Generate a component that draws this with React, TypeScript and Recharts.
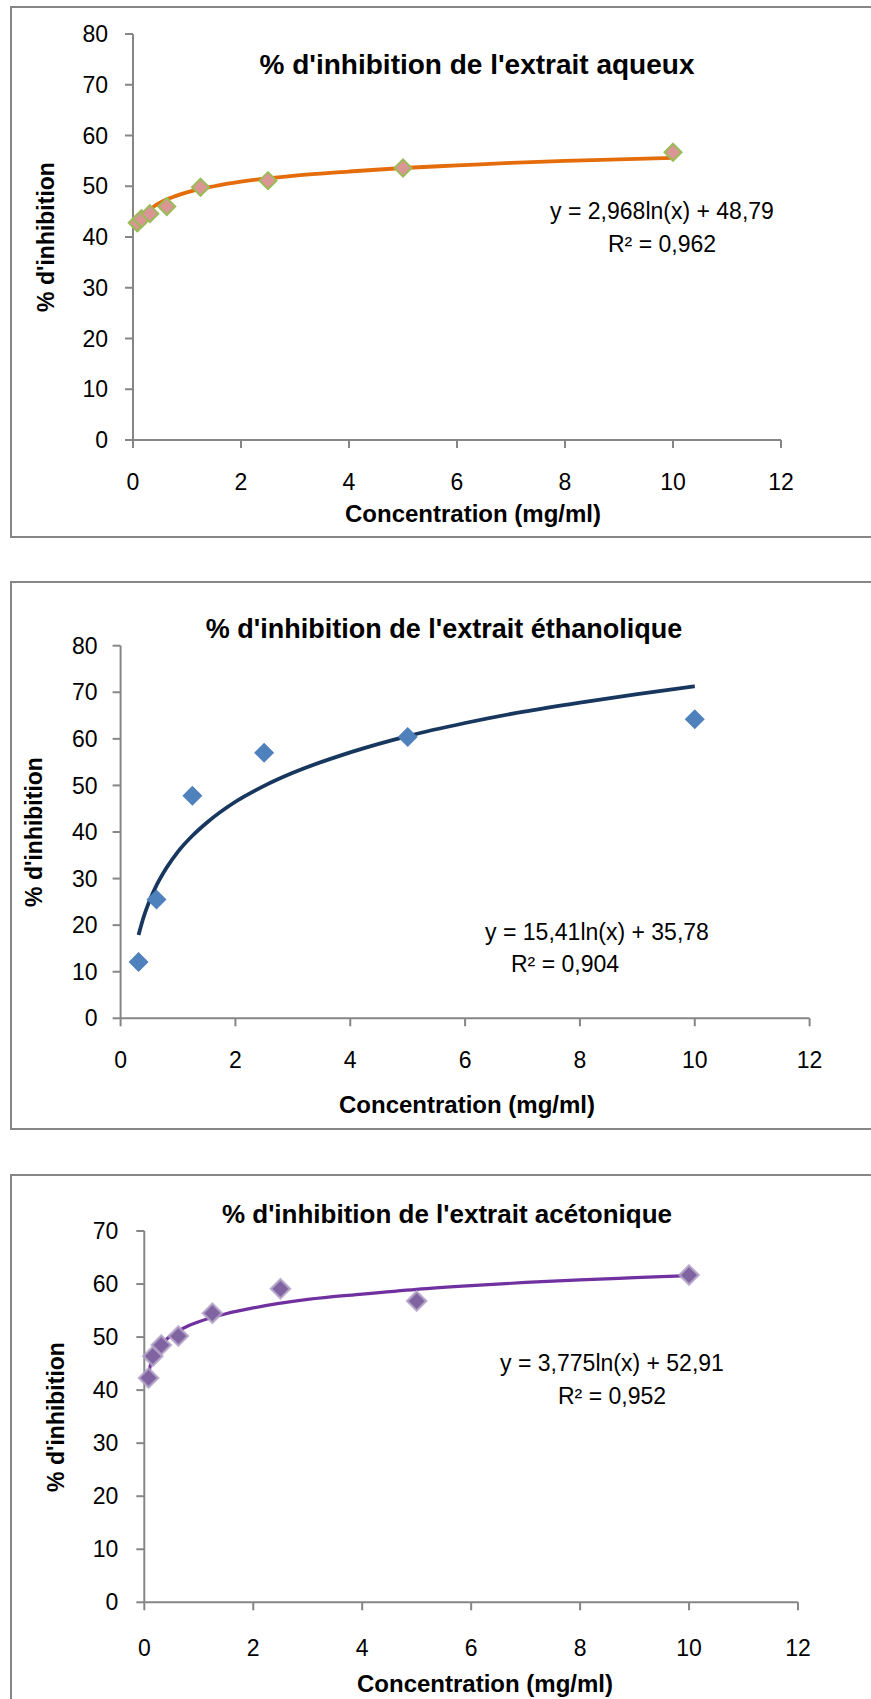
import React from "react";
import { ComposedChart, Scatter, Line, XAxis, YAxis } from "recharts";

const xTicks = [0, 2, 4, 6, 8, 10, 12];
const yTicks80 = [0, 10, 20, 30, 40, 50, 60, 70, 80];
const yTicks70 = [0, 10, 20, 30, 40, 50, 60, 70];

// extrait aqueux
const aqueuxConc = [0.078, 0.156, 0.3125, 0.625, 1.25, 2.5, 5, 10];
const aqueuxInhib = [42.8, 43.6, 44.6, 46.0, 49.8, 51.1, 53.6, 56.7];
const aqueuxTrendX = [0.078, 0.1, 0.15, 0.2, 0.3, 0.4, 0.6, 0.8, 1, 1.5, 2, 3, 4, 5, 6, 7, 8, 9, 10];
const aqueuxTrendY = [41.2, 42.0, 43.2, 44.0, 45.2, 46.1, 47.3, 48.1, 48.8, 50.0, 50.9, 52.1, 52.9, 53.6, 54.1, 54.6, 55.0, 55.3, 55.6];

// extrait éthanolique
const ethanolConc = [0.3125, 0.625, 1.25, 2.5, 5, 10];
const ethanolInhib = [12.1, 25.5, 47.8, 57.0, 60.4, 64.2];
const ethanolTrendX = [0.3125, 0.4, 0.5, 0.6, 0.8, 1, 1.25, 1.5, 2, 2.5, 3, 4, 5, 6, 7, 8, 9, 10];
const ethanolTrendY = [17.9, 21.7, 25.1, 27.9, 32.3, 35.8, 39.2, 42.0, 46.5, 49.9, 52.7, 57.1, 60.6, 63.4, 65.8, 67.8, 69.6, 71.3];

// extrait acétonique
const acetoneConc = [0.078, 0.156, 0.3125, 0.625, 1.25, 2.5, 5, 10];
const acetoneInhib = [42.3, 46.4, 48.5, 50.2, 54.5, 59.1, 56.8, 61.7];
const acetoneTrendX = [0.078, 0.1, 0.15, 0.2, 0.3, 0.4, 0.6, 0.8, 1, 1.5, 2, 3, 4, 5, 6, 7, 8, 9, 10];
const acetoneTrendY = [42.8, 44.2, 45.7, 46.8, 48.4, 49.5, 51.0, 52.1, 52.9, 54.4, 55.5, 57.1, 58.1, 59.0, 59.7, 60.3, 60.8, 61.2, 61.6];

const FONT = "'Liberation Sans', Arial, sans-serif";
const AXIS = "#868686";

type Pt = { x: number; y: number };
const zip = (xs: number[], ys: number[]): Pt[] => xs.map((x, i) => ({ x, y: ys[i] }));

function Diamond(props: any) {
  const { cx, cy, r, fill, stroke, strokeWidth, strokeOpacity } = props;
  if (cx == null || cy == null) return null;
  return (
    <polygon
      points={`${cx},${cy - r} ${cx + r},${cy} ${cx},${cy + r} ${cx - r},${cy}`}
      fill={fill}
      stroke={stroke}
      strokeWidth={strokeWidth}
      strokeOpacity={strokeOpacity}
    />
  );
}

function Label({ x, y, size, bold, rotate, children }: any) {
  return (
    <div
      style={{
        position: "absolute",
        left: x,
        top: y,
        transform: `translate(-50%, -50%)${rotate ? " rotate(-90deg)" : ""}`,
        fontSize: size,
        fontWeight: bold ? "bold" : "normal",
        lineHeight: 1,
        whiteSpace: "nowrap",
        color: "#000",
      }}
    >
      {children}
    </div>
  );
}

interface PanelProps {
  top: number;
  height: number;
  plotLeft: number;
  plotTop: number;
  plotWidth: number;
  plotHeight: number;
  yMax: number;
  yTicks: number[];
  xTickMargin: number;
  yTickMargin: number;
  points: Pt[];
  trend: Pt[];
  lineColor: string;
  lineWidth: number;
  marker: { r: number; fill: string; stroke?: string; strokeWidth?: number; strokeOpacity?: number };
}

function Panel(p: PanelProps) {
  const width = 861;
  return (
    <div style={{ position: "absolute", left: 10, top: p.top }}>
      <ComposedChart
        width={width}
        height={p.height}
        margin={{ top: p.plotTop, right: width - p.plotLeft - p.plotWidth, bottom: 0, left: 0 }}
      >
        <XAxis
          type="number"
          dataKey="x"
          domain={[0, 12]}
          ticks={xTicks}
          height={p.height - p.plotTop - p.plotHeight}
          stroke={AXIS}
          strokeWidth={2}
          tickSize={8}
          tickMargin={p.xTickMargin}
          tick={{ fill: "#000", fontSize: 23 }}
        />
        <YAxis
          type="number"
          dataKey="y"
          domain={[0, p.yMax]}
          ticks={p.yTicks}
          width={p.plotLeft}
          stroke={AXIS}
          strokeWidth={2}
          tickSize={8}
          tickMargin={p.yTickMargin}
          tick={{ fill: "#000", fontSize: 23 }}
        />
        <Scatter
          data={p.points}
          dataKey="y"
          isAnimationActive={false}
          shape={(s: any) => <Diamond {...s} {...p.marker} />}
        />
        <Line
          data={p.trend}
          dataKey="y"
          type="monotone"
          stroke={p.lineColor}
          strokeWidth={p.lineWidth}
          dot={false}
          activeDot={false}
          isAnimationActive={false}
        />
      </ComposedChart>
    </div>
  );
}

function Frame({ top, bottom }: { top: number; bottom: number }) {
  return (
    <div
      style={{
        position: "absolute",
        left: 10,
        top,
        width: 880,
        height: bottom - top,
        border: `2.5px solid ${AXIS}`,
        boxSizing: "border-box",
      }}
    />
  );
}

export default function App() {
  return (
    <div
      style={{
        position: "absolute",
        left: 0,
        top: 0,
        width: 871,
        height: 1699,
        overflow: "hidden",
        background: "#fff",
        fontFamily: FONT,
      }}
    >
      {/* aqueux */}
      <Frame top={6} bottom={538} />
      <Panel
        top={6}
        height={531}
        plotLeft={123}
        plotTop={28}
        plotWidth={648}
        plotHeight={406}
        yMax={80}
        yTicks={yTicks80}
        xTickMargin={26}
        yTickMargin={17}
        points={zip(aqueuxConc, aqueuxInhib)}
        trend={zip(aqueuxTrendX, aqueuxTrendY)}
        lineColor="#E46C0A"
        lineWidth={3.8}
        marker={{ r: 8.5, fill: "#D99694", stroke: "#9BBB59", strokeWidth: 2 }}
      />
      <Label x={477} y={65} size={28} bold>% d'inhibition de l'extrait aqueux</Label>
      <Label x={46} y={237} size={23} bold rotate>% d'inhibition</Label>
      <Label x={473} y={514} size={24} bold>Concentration (mg/ml)</Label>
      <Label x={662} y={211} size={23}>y = 2,968ln(x) + 48,79</Label>
      <Label x={662} y={244} size={23}>R² = 0,962</Label>

      {/* éthanolique */}
      <Frame top={581} bottom={1130} />
      <Panel
        top={581}
        height={548}
        plotLeft={110.6}
        plotTop={64.7}
        plotWidth={689}
        plotHeight={372.6}
        yMax={80}
        yTicks={yTicks80}
        xTickMargin={25}
        yTickMargin={15}
        points={zip(ethanolConc, ethanolInhib)}
        trend={zip(ethanolTrendX, ethanolTrendY)}
        lineColor="#17375E"
        lineWidth={3.8}
        marker={{ r: 10, fill: "#4F81BD" }}
      />
      <Label x={444} y={629} size={27} bold>% d'inhibition de l'extrait éthanolique</Label>
      <Label x={34} y={832} size={23} bold rotate>% d'inhibition</Label>
      <Label x={467} y={1105} size={24} bold>Concentration (mg/ml)</Label>
      <Label x={597} y={932} size={23}>y = 15,41ln(x) + 35,78</Label>
      <Label x={565} y={964} size={23}>R² = 0,904</Label>

      {/* acétonique */}
      <Frame top={1174} bottom={1710} />
      <Panel
        top={1174}
        height={525}
        plotLeft={134.3}
        plotTop={57}
        plotWidth={653.7}
        plotHeight={371.3}
        yMax={70}
        yTicks={yTicks70}
        xTickMargin={29}
        yTickMargin={18}
        points={zip(acetoneConc, acetoneInhib)}
        trend={zip(acetoneTrendX, acetoneTrendY)}
        lineColor="#7030A0"
        lineWidth={3.2}
        marker={{ r: 9.5, fill: "#8064A2", stroke: "#B3A2C7", strokeWidth: 2.5, strokeOpacity: 0.8 }}
      />
      <Label x={447} y={1214} size={26} bold>% d'inhibition de l'extrait acétonique</Label>
      <Label x={56} y={1417} size={23} bold rotate>% d'inhibition</Label>
      <Label x={485} y={1684} size={24} bold>Concentration (mg/ml)</Label>
      <Label x={612} y={1363} size={23}>y = 3,775ln(x) + 52,91</Label>
      <Label x={612} y={1396} size={23}>R² = 0,952</Label>
    </div>
  );
}
